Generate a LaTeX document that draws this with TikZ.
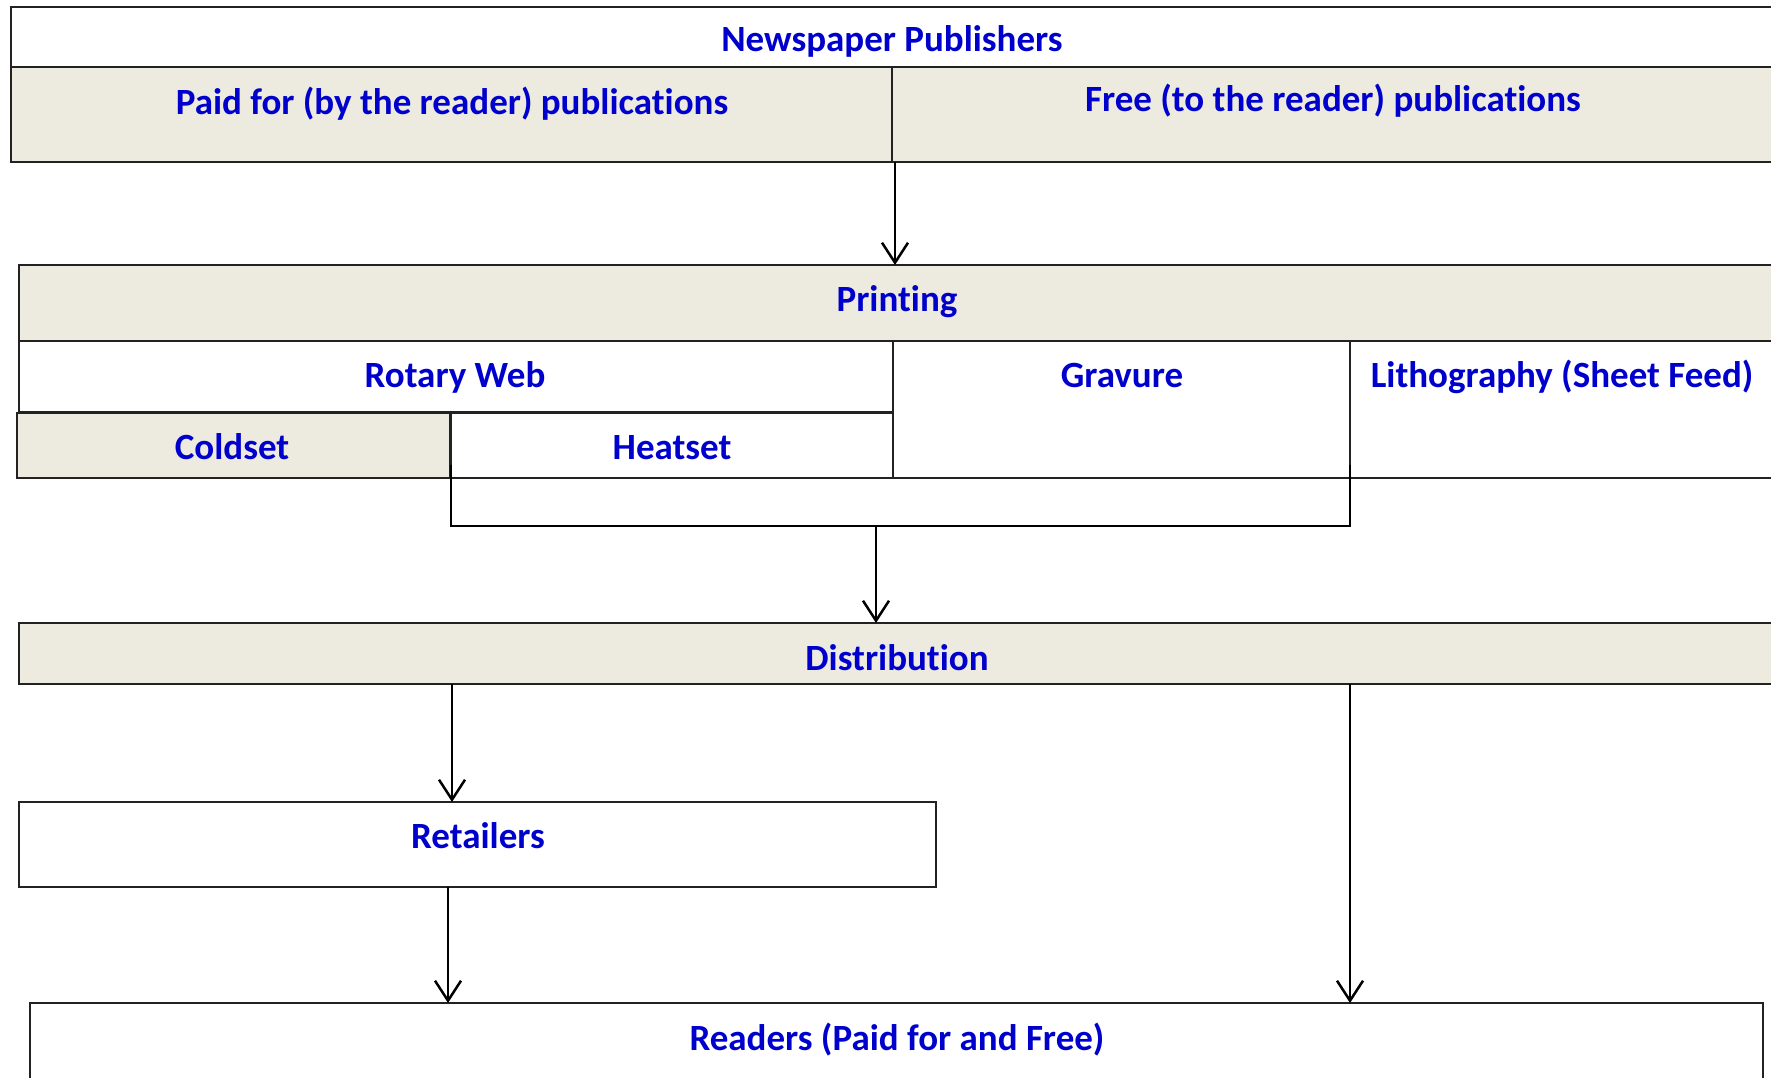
\documentclass[tikz,border=0pt]{standalone}
\usepackage{fontspec}
\setmainfont[Ligatures=NoCommon]{Carlito}
\usetikzlibrary{arrows.meta}
\definecolor{beige}{HTML}{EDEAE0}
\definecolor{txtblue}{HTML}{0000CC}
\definecolor{edge}{HTML}{222222}
\tikzset{
  box/.style={draw=edge, line width=1.8pt, inner sep=0pt, outer sep=0pt, anchor=north west},
  tan/.style={box, fill=beige},
  wbox/.style={box, fill=white},
  lbl/.style={text=txtblue, font=\fontsize{37}{42}\selectfont\bfseries, inner sep=0pt, anchor=base},
  arr/.style={draw=black, line width=2.5pt, -{Straight Barb[length=20pt,width=26pt,line width=2.5pt]}},
  con/.style={draw=black, line width=2.5pt}
}
\begin{document}
\begin{tikzpicture}[x=1pt,y=-1pt]
\useasboundingbox (0,0) rectangle (1771,1078);
\clip (0,0) rectangle (1771,1078);
\fill[white] (0,0) rectangle (1771,1078);
% top
\node[wbox, minimum width=1780pt, minimum height=60pt] (np) at (11,7) {};
\node[tan, minimum width=881pt, minimum height=95pt] (paid) at (11,67) {};
\node[tan, minimum width=900pt, minimum height=95pt] (free) at (892,67) {};
\node[lbl] (npl) at (892,52) {Newspaper Publishers};
\node[lbl] (paidl) at (452,115) {Paid for (by the reader) publications};
\node[lbl] (freel) at (1333,112) {Free (to the reader) publications};
% printing
\node[tan, minimum width=1780pt, minimum height=76pt] (print) at (19,265) {};
\node[lbl] (printl) at (897,311) {Printing};
\node[wbox, minimum width=874pt, minimum height=71pt] (rotary) at (19,341) {};
\node[wbox, minimum width=457pt, minimum height=137pt] (grav) at (893,341) {};
\node[wbox, minimum width=440pt, minimum height=137pt] (litho) at (1350,341) {};
\node[tan, minimum width=433pt, minimum height=65pt] (cold) at (17,413) {};
\node[wbox, minimum width=442pt, minimum height=65pt] (heat) at (451,413) {};
\node[lbl] (rotaryl) at (455,387) {Rotary Web};
\node[lbl] (gravl) at (1122,387) {Gravure};
\node[lbl] (lithol) at (1562,387) {Lithography (Sheet Feed)};
\node[lbl] (coldl) at (232,459) {Coldset};
\node[lbl] (heatl) at (672,459) {Heatset};
% distribution
\node[tan, minimum width=1780pt, minimum height=61pt] (dist) at (19,623) {};
\node[lbl] (distl) at (897,670) {Distribution};
\node[wbox, minimum width=917pt, minimum height=85pt] (ret) at (19,802) {};
\node[lbl] (retl) at (478,848) {Retailers};
\node[wbox, minimum width=1733pt, minimum height=120pt] (read) at (30,1003) {};
\node[lbl] (readl) at (897,1050) {Readers (Paid for and Free)};
% connectors
\coordinate (p0) at (895,162);
\draw[arr] (p0) -- (p0 |- print.north);
\coordinate (bl) at (451,465);
\coordinate (br) at (1350,465);
\coordinate (bm) at (876,526);
\draw[con] (bl) -- (bl |- bm) -- (br |- bm) -- (br);
\draw[arr] (bm) -- (bm |- dist.north);
\coordinate (d1) at (452,684);
\draw[arr] (d1) -- (d1 |- ret.north);
\coordinate (r1) at (448,887);
\draw[arr] (r1) -- (r1 |- read.north);
\coordinate (d2) at (1350,684);
\draw[arr] (d2) -- (d2 |- read.north);
\end{tikzpicture}
\end{document}
